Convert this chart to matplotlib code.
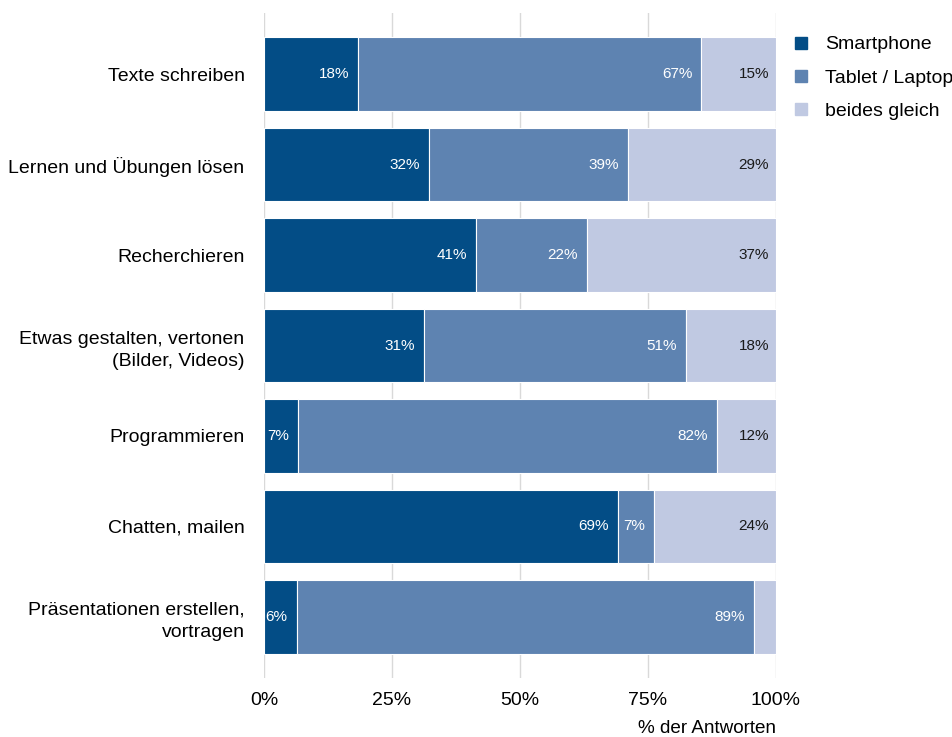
import matplotlib
matplotlib.use("Agg")
import matplotlib.pyplot as plt
from matplotlib.lines import Line2D
import numpy as np

plt.rcParams['font.family'] = ['Liberation Sans', 'DejaVu Sans']

categories = [
    "Texte schreiben",
    "Lernen und Übungen lösen",
    "Recherchieren",
    "Etwas gestalten, vertonen\n(Bilder, Videos)",
    "Programmieren",
    "Chatten, mailen",
    "Präsentationen erstellen,\nvortragen",
]
smartphone = [18.4, 32.3, 41.4, 31.2, 6.6, 69.1, 6.4]
tablet_laptop = [67.0, 38.8, 21.7, 51.2, 81.8, 7.1, 89.3]
beides_gleich = [14.6, 28.9, 36.9, 17.6, 11.6, 23.8, 4.3]

series_names = ["Smartphone", "Tablet / Laptop", "beides gleich"]
series_values = [smartphone, tablet_laptop, beides_gleich]
colors = ["#034D86", "#5E83B1", "#C0C9E2"]
label_colors = ["white", "white", "#1a1a1a"]
label_offsets = [-6.5, -6.5, -5.0]
x_ticks = [0, 25, 50, 75, 100]
x_tick_labels = ["0%", "25%", "50%", "75%", "100%"]

W, H = 953, 737
fig = plt.figure(figsize=(W / 100, H / 100), dpi=100)
ax = fig.add_axes([264 / W, 1 - 678 / H, (776 - 264) / W, (678 - 13) / H])

y = np.arange(len(categories))
left = np.zeros(len(categories))
for name, vals, col, lc, off in zip(series_names, series_values, colors,
                                    label_colors, label_offsets):
    vals = np.array(vals)
    ax.barh(y, vals, left=left, height=0.81, color=col, edgecolor="white",
            linewidth=0.8, zorder=2)
    for yi, l, v in zip(y, left, vals):
        if v >= 5:
            ax.annotate(f"{v:.0f}%", xy=(l + v, yi), xytext=(off, 0),
                        textcoords="offset points", ha="right", va="center",
                        fontsize=11, color=lc, zorder=3)
    left += vals

ax.set_xlim(0, 100)
ax.set_ylim(len(categories) - 1 + 0.675, -0.675)
ax.set_yticks(y)
ax.set_yticklabels(categories, fontsize=14, linespacing=1.4)
ax.set_xticks(x_ticks)
ax.set_xticklabels(x_tick_labels, fontsize=14)
ax.tick_params(axis="y", length=0, pad=14)
ax.tick_params(axis="x", length=0, pad=10)
for lab in ax.get_yticklabels():
    lab.set_horizontalalignment("right")
ax.grid(axis="x", color="#D9D9D9", linewidth=1.0, zorder=0)
ax.grid(axis="y", visible=False)
for s in ax.spines.values():
    s.set_visible(False)
ax.set_xlabel("% der Antworten", fontsize=13.6, loc="right", labelpad=8)

handles = [Line2D([0], [0], marker="s", linestyle="none", markersize=8.8,
                  markerfacecolor=c, markeredgecolor=c) for c in colors]
fig.legend(handles, series_names, loc="upper left",
           bbox_to_anchor=(782 / W, 1 - 28 / H), frameon=False,
           fontsize=14, handletextpad=0.6, labelspacing=0.8,
           handlelength=1.2, borderaxespad=0)

fig.savefig("out.png", dpi=100, facecolor="white")
